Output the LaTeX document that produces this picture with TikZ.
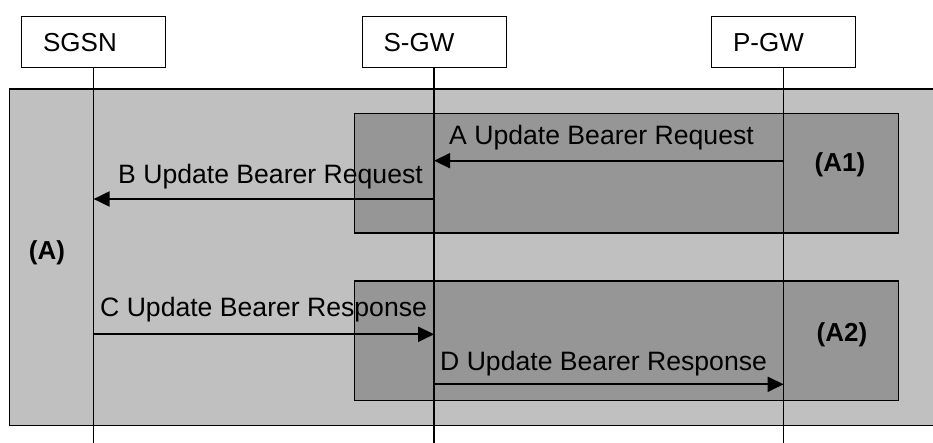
\documentclass[tikz,border=0pt]{standalone}
\usepackage{fontspec}
\setmainfont{Liberation Sans}
\usetikzlibrary{arrows.meta}
\begin{document}
\begin{tikzpicture}[x=1pt,y=-1pt,
  headbox/.style={draw=black,line width=1.2pt,fill=white,minimum width=144pt,minimum height=51pt,
    text width=101pt,align=left,inner xsep=21.5pt,inner ysep=0pt,anchor=north west,
    font=\fontsize{26}{30}\selectfont},
  outerbox/.style={draw=black,line width=1.3pt,fill=lightgrey},
  innerbox/.style={draw=black,line width=1.3pt,fill=darkgrey},
  lifeline/.style={draw=black,line width=1.3pt},
  msg/.style={draw=black,line width=2pt,-{Triangle[length=16pt,width=15pt]}},
  msgtext/.style={anchor=base west,inner sep=0pt,font=\fontsize{26.6}{30}\selectfont},
  tag/.style={inner sep=0pt,font=\fontsize{26}{30}\selectfont\bfseries}
]
\definecolor{lightgrey}{HTML}{C0C0C0}
\definecolor{darkgrey}{HTML}{969696}
\useasboundingbox (0,0) rectangle (933,443);
\fill[white] (0,0) rectangle (933,443);
% group boxes
\node[outerbox,minimum width=931pt,minimum height=336.7pt,anchor=north west,inner sep=0pt] (grpA) at (9,88.3) {};
\node[innerbox,minimum width=544pt,minimum height=119.5pt,anchor=north west,inner sep=0pt] (grpA1) at (354,113) {};
\node[innerbox,minimum width=544pt,minimum height=119pt,anchor=north west,inner sep=0pt] (grpA2) at (354,280.5) {};
% headers
\node[headbox] (sgsn) at (21,16) {SGSN};
\node[headbox] (sgw) at (361.5,16) {S-GW};
\node[headbox] (pgw) at (711,16) {P-GW};
% lifeline ends
\coordinate (sgsnend) at (sgsn.south |- 0,443);
\coordinate (sgwend) at (sgw.south |- 0,443);
\coordinate (pgwend) at (pgw.south |- 0,443);
\draw[lifeline] (sgsn.south) -- (sgsnend);
\draw[lifeline] (sgw.south) -- (sgwend);
\draw[lifeline] (pgw.south) -- (pgwend);
% messages
\draw[msg] (pgw.south |- 0,160.7) -- (sgw.south |- 0,160.7);
\draw[msg] (sgw.south |- 0,199) -- (sgsn.south |- 0,199);
\draw[msg] (sgsn.south |- 0,334.3) -- (sgw.south |- 0,334.3);
\draw[msg] (sgw.south |- 0,384.3) -- (pgw.south |- 0,384.3);
% message labels
\node[msgtext] (la) at (449,145) {A Update Bearer Request};
\node[msgtext] (lb) at (118,184) {B Update Bearer Request};
\node[msgtext] (lc) at (100,316.7) {C Update Bearer Response};
\node[msgtext] (ld) at (440,370) {D Update Bearer Response};
% group tags
\node[tag] (ta) at (47,252.5) {(A)};
\node[tag] (ta1) at (840,165) {(A1)};
\node[tag] (ta2) at (842,335) {(A2)};
\end{tikzpicture}
\end{document}
